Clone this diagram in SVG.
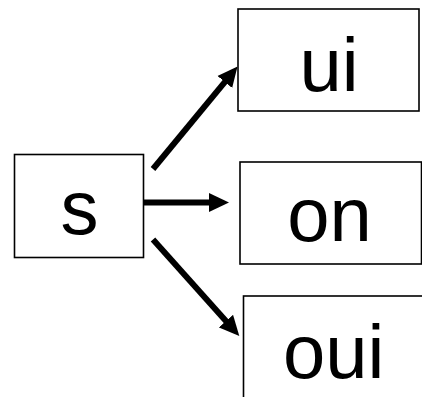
<svg xmlns="http://www.w3.org/2000/svg" width="422" height="397" viewBox="0 0 422 397">
<style>
.box{fill:#ffffff;stroke:#000000;stroke-width:1.6}
.lbl{font-family:"Liberation Sans",Arial,sans-serif;font-size:76px;fill:#000000;text-anchor:middle}
.edge{fill:none;stroke:#000000;stroke-width:6;stroke-linecap:butt}
</style>
<defs>
<marker id="ah" markerUnits="userSpaceOnUse" markerWidth="20" markerHeight="20" refX="8" refY="10" orient="auto" viewBox="0 0 20 20">
<path d="M0,0.5 L20,10 L0,19.5 z" fill="#000000"/>
</marker>
</defs>
<rect x="0" y="0" width="422" height="397" fill="#ffffff"/>
<g id="node-s">
<rect class="box" x="14.5" y="154.5" width="129" height="103"/>
<text class="lbl" x="79.5" y="234">s</text>
</g>
<g id="node-ui">
<rect class="box" x="238" y="9" width="181" height="102"/>
<text class="lbl" x="329" y="91">ui</text>
</g>
<g id="node-on">
<rect class="box" x="240" y="162" width="181.5" height="102"/>
<text class="lbl" x="329.5" y="241">on</text>
</g>
<g id="node-oui">
<rect class="box" x="243.5" y="296" width="181" height="102"/>
<text class="lbl" x="333.7" y="378">oui</text>
</g>
<g id="connectors">
<path class="edge" d="M153,169 L229.9,75.8" marker-end="url(#ah)"/>
<path class="edge" d="M143.5,202.5 L217,202.5" marker-end="url(#ah)"/>
<path class="edge" d="M153,239.5 L231.3,327.1" marker-end="url(#ah)"/>
</g>
</svg>
